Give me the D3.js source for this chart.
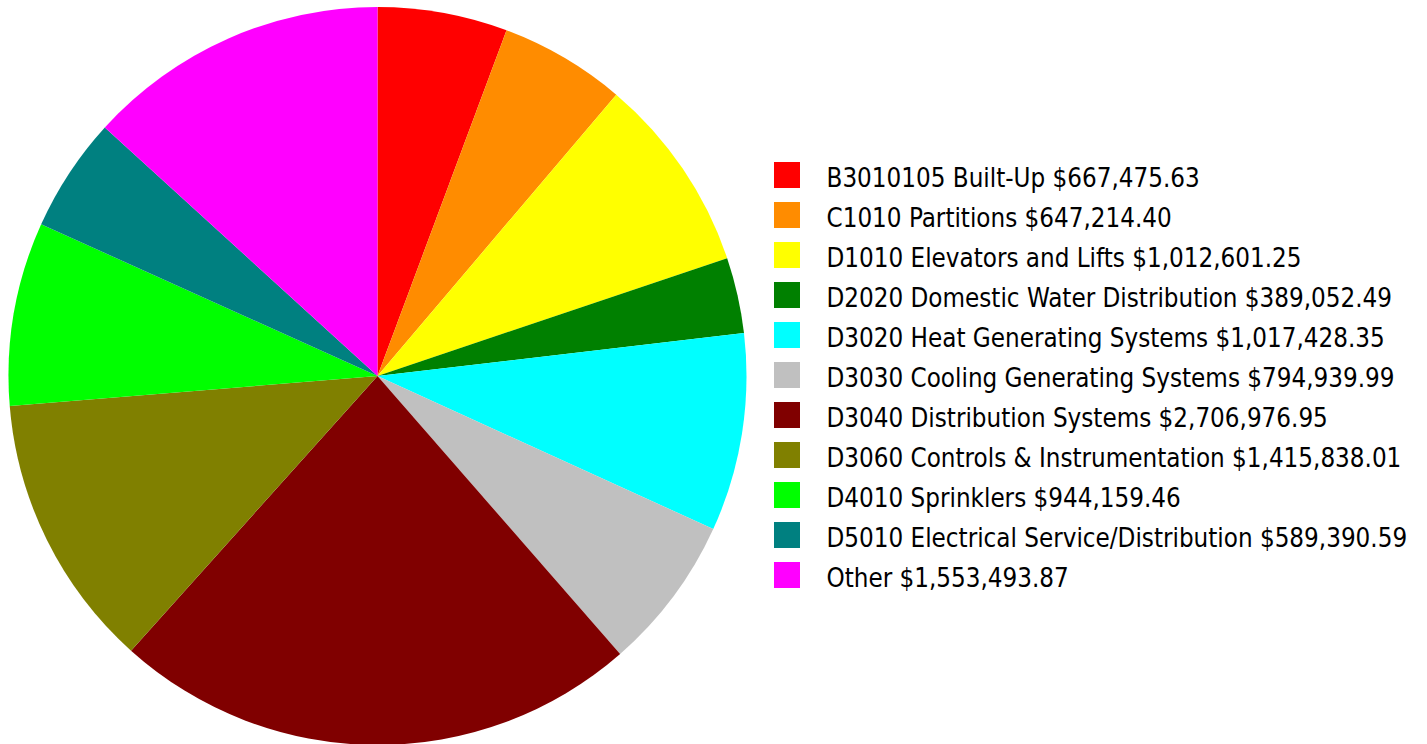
<!DOCTYPE html>
<html>
<head>
<meta charset="utf-8">
<script src="https://cdn.jsdelivr.net/npm/d3@7/dist/d3.min.js"></script>
<style>
  html, body { margin: 0; padding: 0; background: #fff; overflow: hidden; }
  svg { display: block; }
</style>
</head>
<body>
<svg id="chart" width="1427" height="744"></svg>
<script>
// Cost breakdown by system
const categories = [
  "B3010105 Built-Up",
  "C1010 Partitions",
  "D1010 Elevators and Lifts",
  "D2020 Domestic Water Distribution",
  "D3020 Heat Generating Systems",
  "D3030 Cooling Generating Systems",
  "D3040 Distribution Systems",
  "D3060 Controls & Instrumentation",
  "D4010 Sprinklers",
  "D5010 Electrical Service/Distribution",
  "Other"
];
const costs = [
  667475.63, 647214.40, 1012601.25, 389052.49, 1017428.35, 794939.99,
  2706976.95, 1415838.01, 944159.46, 589390.59, 1553493.87
];
const colors = [
  "#ff0000", "#ff8c00", "#ffff00", "#008000", "#00ffff", "#c0c0c0",
  "#800000", "#808000", "#00ff00", "#008080", "#ff00ff"
];

const svg = d3.select("#chart");
const cx = 377.5, cy = 376, radius = 369;

const data = categories.map((name, i) => ({ name, value: costs[i], color: colors[i] }));

const pie = d3.pie().sort(null).value(d => d.value);
const arc = d3.arc().innerRadius(0).outerRadius(radius);

svg.append("g")
  .attr("transform", `translate(${cx},${cy})`)
  .selectAll("path")
  .data(pie(data))
  .join("path")
  .attr("d", arc)
  .attr("fill", d => d.data.color);

// Legend
const money = d3.format(",.2f");
const legendX = 774, legendY = 162, rowStep = 40, box = 26;
const legend = svg.append("g");

const rows = legend.selectAll("g")
  .data(data)
  .join("g")
  .attr("transform", (d, i) => `translate(${legendX},${legendY + i * rowStep})`);

rows.append("rect")
  .attr("width", box)
  .attr("height", box)
  .attr("fill", d => d.color);

const labels = rows.append("text")
  .attr("x", 0)
  .attr("y", 25)
  .attr("font-family", "'DejaVu Sans Condensed', 'DejaVu Sans', sans-serif")
  .attr("font-size", 27)
  .attr("fill", "#000")
  .text(d => `${d.name} $${money(d.value)}`);

// Narrow the labels so the longest one spans the legend column
const maxW = d3.max(labels.nodes(), n => n.getComputedTextLength());
const k = 581 / maxW;
labels.attr("transform", `translate(52.5,0) scale(${k},1)`);
</script>
</body>
</html>
